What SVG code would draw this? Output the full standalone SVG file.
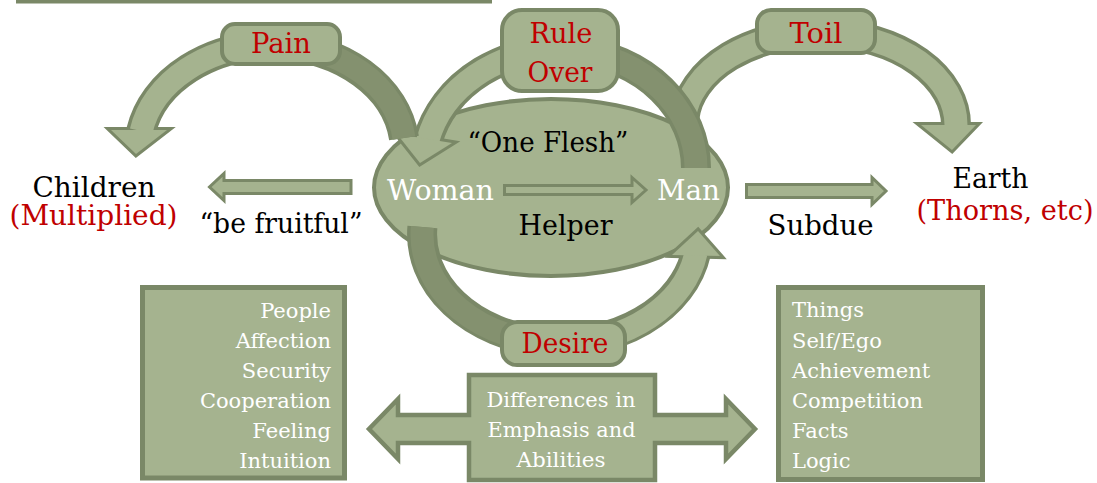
<svg xmlns="http://www.w3.org/2000/svg" width="1097" height="483" viewBox="0 0 1097 483">
<defs>
<style>
.lt{fill:#a5b38f;stroke:#7a8867;stroke-width:4}
.bo{fill:none;stroke:#7a8867;stroke-width:30}
.bl{fill:none;stroke:#a5b38f;stroke-width:23}
.bd{fill:none;stroke:#84916f;stroke-width:23}
.ho{fill:#7a8867;stroke:#7a8867;stroke-width:6}
.hf{fill:#a5b38f;stroke:none}
.sa{fill:#a5b38f;stroke:#7a8867;stroke-width:3}
text{font-family:"DejaVu Serif","Liberation Serif",serif;font-size:27px}
.r{fill:#c00000}
.w{fill:#ffffff}
.k{fill:#000000}
.m{text-anchor:middle}
.s{font-size:21px}
</style>
</defs>
<rect id="top-box" x="18" y="-40" width="472" height="41.5" class="lt"/>
<g id="core">
<ellipse cx="551" cy="187.5" rx="177" ry="88.5" class="lt"/>
</g>
<g id="connectors">
<g id="arrow-toil">
<path class="bo" d="M 684.4 118 A 136 92 0 0 1 956 126"/>
<polygon class="ho" points="921,125 976,125 952,150"/>
<path class="bl" d="M 684.4 118 A 136 92 0 0 1 956 126"/>
<polygon class="hf" points="921,125 976,125 952,150"/>
</g>
<g id="arrow-rule">
<path class="bo" d="M 696 168 A 136 118 0 0 0 427.6 141"/>
<polygon class="ho" points="397,134 452,143 420,163"/>
<path class="bd" d="M 696 168 A 136 118 0 0 0 560 50"/>
<path class="bl" d="M 560 50 A 136 118 0 0 0 427.6 141"/>
<polygon class="hf" points="397,134 452,143 420,163"/>
</g>
<g id="arrow-pain">
<path class="bo" d="M 404 138 A 133 105 0 0 0 141.2 131"/>
<polygon class="ho" points="111,130 167,130 136,154"/>
<path class="bd" d="M 404 138 A 133 105 0 0 0 272 45"/>
<path class="bl" d="M 272 45 A 133 105 0 0 0 141.2 131"/>
<polygon class="hf" points="111,130 167,130 136,154"/>
</g>
<g id="arrow-desire">
<path class="bo" d="M 422.4 227 A 138 108 0 0 0 696 253"/>
<polygon class="ho" points="672,255 720,256 698,231"/>
<path class="bd" d="M 422.4 227 A 138 108 0 0 0 560 343"/>
<path class="bl" d="M 560 343 A 138 108 0 0 0 696 253"/>
<polygon class="hf" points="672,255 720,256 698,231"/>
</g>
<path id="arrow-helper" class="sa" d="M 504.5 185.5 H 632 V 177.5 L 646 190 L 632 202.5 V 194.5 H 504.5 Z"/>
<path id="arrow-subdue" class="sa" d="M 746.5 184.5 H 872 V 177.5 L 886 191 L 872 204.5 V 197.5 H 746.5 Z"/>
<path id="arrow-fruitful" class="sa" d="M 351 180.5 H 224 V 173.5 L 209.5 187 L 224 200.5 V 193.5 H 351 Z"/>
</g>
<g id="woman"><text x="387" y="200" class="w" textLength="107" lengthAdjust="spacingAndGlyphs">Woman</text></g>
<g id="man"><text x="657" y="200" class="w" textLength="63" lengthAdjust="spacingAndGlyphs">Man</text></g>
<g id="one-flesh"><text x="548" y="152" class="k m" textLength="161" lengthAdjust="spacingAndGlyphs">“One Flesh”</text></g>
<g id="helper"><text x="565.5" y="235" class="k m" textLength="94" lengthAdjust="spacingAndGlyphs">Helper</text></g>
<g id="pain"><rect x="222" y="24" width="118" height="40" rx="13" class="lt"/><text x="281" y="53" class="r m" textLength="60" lengthAdjust="spacingAndGlyphs">Pain</text></g>
<g id="rule-over"><rect x="502" y="10" width="116" height="81" rx="20" class="lt"/><text x="561" y="43" class="r m" textLength="63" lengthAdjust="spacingAndGlyphs">Rule</text><text x="560" y="82" class="r m" textLength="65" lengthAdjust="spacingAndGlyphs">Over</text></g>
<g id="toil"><rect x="757" y="10" width="118" height="43" rx="14" class="lt"/><text x="816" y="43" class="r m" textLength="53" lengthAdjust="spacingAndGlyphs">Toil</text></g>
<g id="desire"><rect x="502" y="322" width="123" height="43" rx="15" class="lt"/><text x="565" y="353" class="r m" textLength="87" lengthAdjust="spacingAndGlyphs">Desire</text></g>
<g id="children"><text x="94" y="197" class="k m" textLength="123" lengthAdjust="spacingAndGlyphs">Children</text><text x="93.5" y="225" class="r m" textLength="168" lengthAdjust="spacingAndGlyphs">(Multiplied)</text></g>
<g id="be-fruitful"><text x="281" y="233" class="k m" textLength="163" lengthAdjust="spacingAndGlyphs">“be fruitful”</text></g>
<g id="subdue"><text x="820.5" y="235" class="k m" textLength="106" lengthAdjust="spacingAndGlyphs">Subdue</text></g>
<g id="earth"><text x="990.5" y="188" class="k m" textLength="76" lengthAdjust="spacingAndGlyphs">Earth</text><text x="1005" y="220" class="r m" textLength="177" lengthAdjust="spacingAndGlyphs">(Thorns, etc)</text></g>
<g id="woman-traits">
<rect x="142.5" y="287.5" width="202" height="190.5" class="lt" style="stroke-width:5"/>
<g class="w s" text-anchor="end">
<text x="331" y="318" class="w s">People</text>
<text x="331" y="348" class="w s">Affection</text>
<text x="331" y="378" class="w s">Security</text>
<text x="331" y="408" class="w s">Cooperation</text>
<text x="331" y="438" class="w s">Feeling</text>
<text x="331" y="468" class="w s">Intuition</text>
</g>
</g>
<g id="man-traits">
<rect x="778.5" y="287.5" width="204" height="192" class="lt" style="stroke-width:5"/>
<text x="792" y="317" class="w s">Things</text>
<text x="792" y="348" class="w s">Self/Ego</text>
<text x="792" y="378" class="w s">Achievement</text>
<text x="792" y="408" class="w s">Competition</text>
<text x="792" y="438" class="w s">Facts</text>
<text x="792" y="468" class="w s">Logic</text>
</g>
<g id="differences">
<path class="lt" style="stroke-width:4.5" d="M 469 375 H 655 V 415 H 726 V 399 L 755 429 L 726 459 V 443 H 655 V 480 H 469 V 443 H 398 V 459 L 369 429 L 398 399 V 415 H 469 Z"/>
<text x="561" y="407" class="w m" style="font-size:20px" textLength="149" lengthAdjust="spacingAndGlyphs">Differences in</text>
<text x="561.5" y="437" class="w m" style="font-size:20px" textLength="148" lengthAdjust="spacingAndGlyphs">Emphasis and</text>
<text x="561" y="467" class="w m" style="font-size:20px" textLength="89" lengthAdjust="spacingAndGlyphs">Abilities</text>
</g>
</svg>
